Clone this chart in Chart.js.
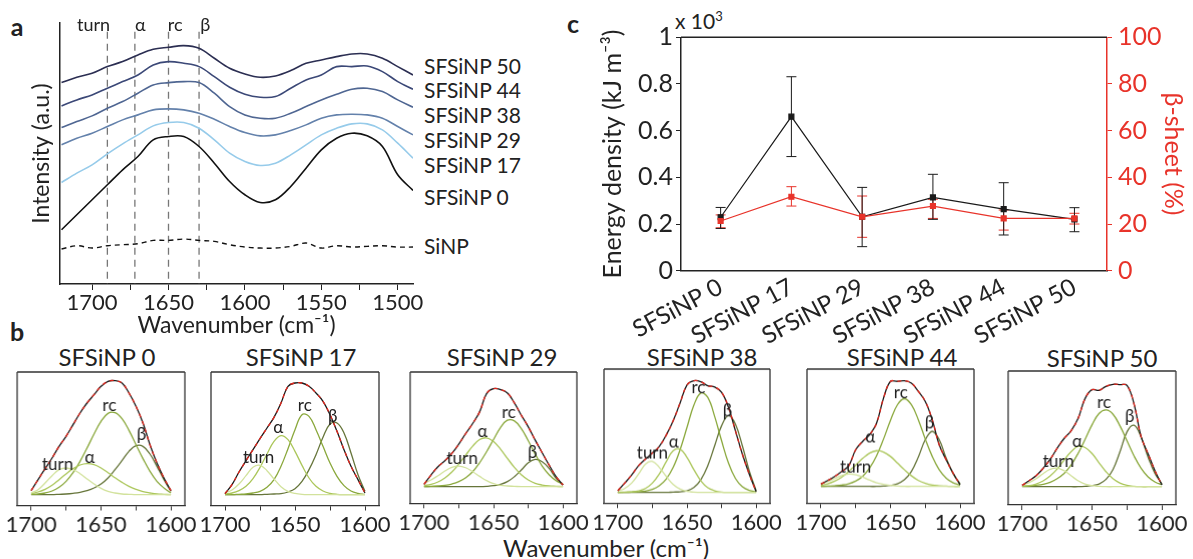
<!DOCTYPE html>
<html>
<head>
<meta charset="utf-8">
<script src="https://cdn.jsdelivr.net/npm/chart.js@4.4.0/dist/chart.umd.min.js"></script>
<style>
  body { margin: 0; width: 1193px; height: 559px; position: relative; overflow: hidden; background: #fff; font-family: Lato, sans-serif; color: #222; }
  canvas { position: absolute; }
  .t { position: absolute; white-space: nowrap; line-height: 1; }
  .c { transform: translate(-50%, -50%); }
  .l { transform: translateY(-50%); }
</style>
</head>
<body>
<div class="t c" style="left:17px;top:26px;font-size:25px;font-weight:bold">a</div>
<div class="t c" style="left:17px;top:331px;font-size:25px;font-weight:bold">b</div>
<div class="t c" style="left:573px;top:23px;font-size:25px;font-weight:bold">c</div>

<div class="t l" style="left:424px;top:65px;font-size:21px">SFSiNP 50</div>
<div class="t l" style="left:424px;top:89px;font-size:21px">SFSiNP 44</div>
<div class="t l" style="left:424px;top:114px;font-size:21px">SFSiNP 38</div>
<div class="t l" style="left:424px;top:139px;font-size:21px">SFSiNP 29</div>
<div class="t l" style="left:424px;top:164px;font-size:21px">SFSiNP 17</div>
<div class="t l" style="left:424px;top:196px;font-size:21px">SFSiNP 0</div>
<div class="t l" style="left:424px;top:245px;font-size:21px">SiNP</div>

<div class="t" style="left:675px;top:10px;font-size:21px">x 10<sup style="font-size:13px">3</sup></div>

<div class="t c" style="left:107px;top:357px;font-size:24px">SFSiNP 0</div>
<div class="t c" style="left:301px;top:357px;font-size:24px">SFSiNP 17</div>
<div class="t c" style="left:502px;top:357px;font-size:24px">SFSiNP 29</div>
<div class="t c" style="left:702px;top:357px;font-size:24px">SFSiNP 38</div>
<div class="t c" style="left:902px;top:357px;font-size:24px">SFSiNP 44</div>
<div class="t c" style="left:1102px;top:358px;font-size:24px">SFSiNP 50</div>
<div class="t c" style="left:606px;top:548px;font-size:24px">Wavenumber (cm⁻¹)</div>

<script>
// FTIR amide I spectra, energy density and beta-sheet content

// ---- panel a: spectra (a.u., offset curves)
const wnA = [1720,1710,1700,1690,1680,1670,1660,1650,1640,1630,1620,1610,1600,1590,1580,1570,1560,1550,1540,1530,1520,1510,1500,1490];
const int50 = [605,621,633,653,668,688,705,711,716,708,678,648,631,621,625,641,663,673,683,691,691,678,653,628];
const int44 = [535,553,568,588,608,628,658,668,663,653,623,591,570,561,563,588,613,628,653,653,655,638,608,585];
const int38 = [470,488,505,528,548,573,598,605,608,605,573,533,508,498,498,513,533,553,570,585,588,578,553,531];
const int29 = [418,438,453,473,493,508,523,526,523,513,495,473,455,445,448,461,478,498,508,510,508,498,473,448];
const int17 = [305,333,358,391,421,448,475,485,485,468,433,393,368,356,363,388,418,448,468,481,481,463,423,378];
const int0 = [163,208,253,298,343,383,433,443,443,413,363,308,268,245,253,293,348,403,438,453,445,413,328,281];
const intSiNP = [105,115,108,115,118,121,131,131,135,131,128,118,111,108,108,113,123,108,115,111,113,115,111,111];
const markerWn = [1690, 1672, 1650, 1630];
const markerNames = ['turn', 'α', 'rc', 'β'];
const markerLabelWn = [1699, 1668.5, 1645.6, 1626];
const ticksA = [1700,1675,1650,1625,1600,1575,1550,1525,1500];

// ---- panel c: energy density (x10^3 kJ m-3) and beta-sheet (%)
const samples = ['SFSiNP 0','SFSiNP 17','SFSiNP 29','SFSiNP 38','SFSiNP 44','SFSiNP 50'];
const energy = [0.229, 0.66, 0.231, 0.314, 0.264, 0.22];
const energyHi = [0.271, 0.831, 0.357, 0.413, 0.377, 0.27];
const energyLo = [0.181, 0.489, 0.103, 0.22, 0.153, 0.167];
const betaSheet = [21.3, 31.7, 23.1, 27.7, 22.4, 22.4];
const betaHi = [23.9, 36, 32, 30.6, 26, 24.6];
const betaLo = [18.4, 27.7, 14.3, 22.4, 17.4, 20];
const ticksEnergy = [0,0.1,0.2,0.3,0.4,0.5,0.6,0.7,0.8,0.9,1];
const ticksBeta = [0,10,20,30,40,50,60,70,80,90,100];

// ---- panel b: peak fitting of amide I
const wnB = [1700,1695,1690,1685,1680,1675,1670,1665,1660,1655,1650,1645,1640,1635,1630,1625,1620,1615,1610,1605,1600];
const ticksB = [1700,1675,1650,1625,1600];

const meas0 = [12,45,78,110,145,175,210,245,275,300,325,340,342,335,305,265,215,150,95,50,12];
const turn0 = [5,15,35,57,75,80,75,63,47,32,19,10,5,2,1,0,0,0,0,0,0];
const alpha0 = [3,8,16,28,45,62,78,89,93,90,80,66,51,37,25,16,9,5,2,1,0];
const rc0 = [1,2,5,11,22,40,66,100,140,182,220,244,246,228,193,150,108,70,40,20,5];
const beta0 = [0,0,0,0,1,2,4,7,12,20,32,50,75,102,130,147,145,122,85,45,10];

const meas17 = [3,30,68,102,135,168,200,232,275,325,335,335,325,305,280,240,190,135,85,45,5];
const turn17 = [5,14,32,57,82,88,72,47,24,10,4,1,0,0,0,0,0,0,0,0,0];
const alpha17 = [2,5,12,25,48,82,122,160,177,165,130,88,50,25,11,4,1,0,0,0,0];
const rc17 = [0,0,1,2,5,10,22,45,85,138,195,240,235,195,145,95,55,27,11,4,1];
const beta17 = [0,0,0,0,0,0,1,2,3,8,18,40,75,120,172,212,215,185,125,60,10];

const meas29 = [7,35,60,78,100,128,160,190,225,280,295,292,282,252,215,180,140,102,65,30,5];
const turn29 = [10,20,33,47,58,62,57,45,31,18,9,4,2,1,0,0,0,0,0,0,0];
const alpha29 = [3,7,14,26,44,68,95,122,142,147,136,113,85,58,36,20,10,5,2,1,0];
const rc29 = [0,1,2,4,8,15,27,45,72,105,142,178,200,198,175,138,98,62,36,18,8];
const beta29 = [0,0,0,0,0,0,0,0,0,1,3,7,15,30,50,72,82,75,55,25,5];

const meas38 = [5,28,52,80,100,118,138,172,215,268,322,335,332,320,316,300,255,185,115,55,2];
const turn38 = [4,12,28,55,85,93,75,48,24,10,3,1,0,0,0,0,0,0,0,0,0];
const alpha38 = [0,1,2,5,12,28,55,92,125,130,105,68,35,14,5,1,0,0,0,0,0];
const rc38 = [0,0,1,2,4,9,20,40,75,128,195,262,298,285,228,155,88,42,17,6,2];
const beta38 = [0,0,0,0,0,0,0,0,1,2,5,15,38,80,140,200,230,205,140,65,5];

const meas44 = [7,18,30,45,62,110,135,155,190,265,315,315,317,310,285,255,200,125,80,40,5];
const turn44 = [8,15,24,33,37,35,28,19,11,6,3,1,0,0,0,0,0,0,0,0,0];
const alpha44 = [3,8,16,28,45,64,84,100,107,103,90,70,50,32,18,9,4,2,1,0,0];
const rc44 = [0,1,2,4,8,16,30,55,92,142,198,245,263,245,200,142,90,50,25,11,4];
const beta44 = [0,0,0,0,0,0,0,0,0,1,3,8,20,45,88,140,165,140,85,38,8];

const meas50 = [4,18,33,55,82,115,145,168,205,265,292,290,302,308,307,305,250,152,100,48,5];
const turn50 = [5,12,24,39,52,56,48,33,18,8,3,1,0,0,0,0,0,0,0,0,0];
const alpha50 = [1,3,8,17,32,53,80,105,121,118,100,72,45,24,11,4,1,0,0,0,0];
const rc50 = [1,2,4,7,13,24,40,65,100,142,186,220,231,218,183,138,93,56,30,14,6];
const beta50 = [0,0,0,0,0,0,0,0,0,1,3,8,22,52,105,165,185,150,90,40,8];

const bLabelWn = [[1681,1658,1644,1621],[1676,1662,1643,1623],[1672.5,1658,1639,1622],[1675,1659.5,1641.7,1620.7],[1675,1664.6,1642.6,1622],[1674,1660.5,1641.4,1623]];
const bLabelH = [[90,112,268,180],[112,200,268,235],[84,167,222,102],[118,152,315,245],[57,147,282,192],[77,137,252,212]];

Chart.defaults.font.family = 'Lato, sans-serif';
Chart.defaults.color = '#222';
Chart.defaults.animation = false;

// text placed in data coordinates
const textLabels = {
  id: 'textLabels',
  afterDatasetsDraw(chart, args, opts) {
    if (!opts.items) return;
    const { ctx, scales: { x, y } } = chart;
    ctx.save();
    ctx.font = opts.font;
    ctx.fillStyle = opts.color || '#222';
    ctx.textAlign = 'center';
    ctx.textBaseline = 'middle';
    opts.items.forEach(it => ctx.fillText(it.text, x.getPixelForValue(it.x), y.getPixelForValue(it.y)));
    ctx.restore();
  }
};

// box lines around the plot area
const frame = {
  id: 'frame',
  afterDraw(chart, args, opts) {
    if (!opts.sides) return;
    const { ctx, chartArea: a } = chart;
    ctx.save();
    ctx.strokeStyle = opts.color || '#222';
    ctx.lineWidth = opts.width || 1.3;
    ctx.beginPath();
    if (opts.sides.includes('top')) { ctx.moveTo(a.left, a.top); ctx.lineTo(a.right, a.top); }
    if (opts.sides.includes('right')) { ctx.moveTo(a.right, a.top); ctx.lineTo(a.right, a.bottom); }
    if (opts.sides.includes('left')) { ctx.moveTo(a.left, a.top); ctx.lineTo(a.left, a.bottom); }
    ctx.stroke();
    ctx.restore();
  }
};

// vertical error bars with caps
const errorBars = {
  id: 'errorBars',
  beforeDatasetsDraw(chart) {
    const ctx = chart.ctx;
    chart.data.datasets.forEach((ds, i) => {
      if (!ds.errLow) return;
      const meta = chart.getDatasetMeta(i);
      const ys = chart.scales[ds.yAxisID];
      ctx.save();
      ctx.strokeStyle = ds.borderColor;
      ctx.lineWidth = 1;
      meta.data.forEach((pt, j) => {
        const yl = ys.getPixelForValue(ds.errLow[j]);
        const yh = ys.getPixelForValue(ds.errHigh[j]);
        ctx.beginPath();
        ctx.moveTo(pt.x, yl); ctx.lineTo(pt.x, yh);
        ctx.moveTo(pt.x - 5, yl); ctx.lineTo(pt.x + 5, yl);
        ctx.moveTo(pt.x - 5, yh); ctx.lineTo(pt.x + 5, yh);
        ctx.stroke();
      });
      ctx.restore();
    });
  }
};

Chart.register(textLabels, frame, errorBars);

function makeCanvas(left, top, w, h) {
  const c = document.createElement('canvas');
  c.width = w; c.height = h;
  c.style.left = left + 'px'; c.style.top = top + 'px';
  c.style.width = w + 'px'; c.style.height = h + 'px';
  document.body.appendChild(c);
  return c;
}

function xy(xs, ys) {
  return xs.map((x, i) => ({ x: x, y: ys[i] }));
}

// ---- panel a
const spectra = [
  { data: int50, color: '#2b2e52' },
  { data: int44, color: '#3b4877' },
  { data: int38, color: '#4f6692' },
  { data: int29, color: '#6381ab' },
  { data: int17, color: '#96cbea' },
  { data: int0, color: '#111111' }
];

const aDatasets = spectra.map(s => ({
  data: xy(wnA, s.data),
  borderColor: s.color,
  borderWidth: 1.6,
  pointRadius: 0,
  tension: 0.35
}));
aDatasets.push({
  data: xy(wnA, intSiNP),
  borderColor: '#111',
  borderWidth: 1.4,
  borderDash: [5, 4],
  pointRadius: 0,
  tension: 0.35
});
markerWn.forEach(w => aDatasets.push({
  data: [{ x: w, y: 758 }, { x: w, y: 0 }],
  borderColor: '#777',
  borderWidth: 1.3,
  borderDash: [7, 5],
  pointRadius: 0
}));

new Chart(makeCanvas(0, 0, 560, 345), {
  type: 'line',
  data: { datasets: aDatasets },
  options: {
    responsive: false,
    layout: { padding: { left: 0, top: 23, right: 147, bottom: 0 } },
    plugins: {
      legend: { display: false },
      tooltip: { enabled: false },
      textLabels: {
        font: '18px Lato',
        items: markerNames.map((n, i) => ({ text: n, x: markerLabelWn[i], y: 778 }))
      }
    },
    scales: {
      x: {
        type: 'linear', min: 1490, max: 1721, reverse: true,
        afterBuildTicks: s => { s.ticks = ticksA.map(v => ({ value: v })); },
        afterFit: s => { s.height = 61; },
        ticks: { autoSkip: false, maxRotation: 0, padding: 0, font: { size: 22 }, callback: v => (v % 50 === 0 ? String(v) : '') },
        grid: { drawOnChartArea: false, drawTicks: true, tickLength: 6, color: '#222' },
        border: { color: '#222', width: 1.5 },
        title: { display: true, text: 'Wavenumber (cm⁻¹)', font: { size: 23 }, padding: { top: 0, bottom: 6 } }
      },
      y: {
        min: 0, max: 784,
        afterFit: s => { s.width = 60; },
        ticks: { display: false },
        grid: { display: false },
        border: { color: '#222', width: 1.5 },
        title: { display: true, text: 'Intensity (a.u.)', font: { size: 23 }, padding: { top: 28, bottom: 0 } }
      }
    }
  }
});

// ---- panel c
new Chart(makeCanvas(560, 0, 633, 345), {
  type: 'line',
  data: {
    datasets: [
      {
        label: 'β-sheet',
        data: xy([0, 1, 2, 3, 4, 5], betaSheet),
        errLow: betaLo, errHigh: betaHi,
        yAxisID: 'y1',
        borderColor: '#e8332a', backgroundColor: '#e8332a',
        borderWidth: 1.2, pointStyle: 'rect', pointRadius: 3.5,
        order: 0
      },
      {
        label: 'Energy density',
        data: xy([0, 1, 2, 3, 4, 5], energy),
        errLow: energyLo, errHigh: energyHi,
        yAxisID: 'y',
        borderColor: '#1a1a1a', backgroundColor: '#1a1a1a',
        borderWidth: 1.2, pointStyle: 'rect', pointRadius: 3.5,
        order: 1
      }
    ]
  },
  options: {
    responsive: false,
    layout: { padding: { left: 0, top: 37.3, right: 0, bottom: 0 } },
    plugins: {
      legend: { display: false },
      tooltip: { enabled: false },
      frame: { sides: ['top'], color: '#222', width: 1.5 }
    },
    scales: {
      x: {
        type: 'linear', min: -0.56, max: 5.46,
        afterBuildTicks: s => { s.ticks = [0, 1, 2, 3, 4, 5].map(v => ({ value: v })); },
        afterFit: s => { s.height = 74.3; },
        ticks: { autoSkip: false, minRotation: 28, maxRotation: 28, padding: 2, font: { size: 24 }, callback: v => samples[v] },
        grid: { display: false, drawTicks: false },
        border: { color: '#222', width: 1.5 }
      },
      y: {
        position: 'left', min: 0, max: 1,
        afterBuildTicks: s => { s.ticks = ticksEnergy.map(v => ({ value: v })); },
        afterFit: s => { s.width = 121; },
        ticks: { padding: 3, font: { size: 25 }, callback: (v, i) => (i % 2 ? '' : (v === 0 || v === 1 ? String(v) : v.toFixed(1))) },
        grid: { drawOnChartArea: false, drawTicks: true, tickLength: 5, color: '#222' },
        border: { color: '#222', width: 1.5 },
        title: { display: true, text: 'Energy density (kJ m⁻³)', font: { size: 25 }, padding: { top: 38, bottom: 0 } }
      },
      y1: {
        position: 'right', min: 0, max: 100,
        afterBuildTicks: s => { s.ticks = ticksBeta.map(v => ({ value: v })); },
        afterFit: s => { s.width = 86; },
        ticks: { padding: 6, color: '#e8332a', font: { size: 25 }, callback: (v, i) => (i % 2 ? '' : String(v)) },
        grid: { drawOnChartArea: false, drawTicks: true, tickLength: 5, color: '#e8332a' },
        border: { color: '#e8332a', width: 1.5 },
        title: { display: true, text: 'β-sheet (%)', color: '#e8332a', font: { size: 25 }, padding: { top: 5, bottom: 0 } }
      }
    }
  }
});

// ---- panel b
const fits = [
  [meas0, turn0, alpha0, rc0, beta0],
  [meas17, turn17, alpha17, rc17, beta17],
  [meas29, turn29, alpha29, rc29, beta29],
  [meas38, turn38, alpha38, rc38, beta38],
  [meas44, turn44, alpha44, rc44, beta44],
  [meas50, turn50, alpha50, rc50, beta50]
];
const bBoxes = [[16.7, 372, 184.5, 505.5], [210.7, 372, 379, 505.5], [410, 371.7, 576.7, 503.3], [604, 369.3, 770, 503.3], [807.3, 369.3, 974.3, 503.3], [1008.3, 370.7, 1175.7, 505]];
const bYRange = [[-32.5, 368], [-32.5, 368], [-50, 345], [-32, 370], [-50, 352], [-55, 348]];
const compColors = ['#d2e29c', '#abc65a', '#8aa83c', '#66753a'];

fits.forEach((f, k) => {
  const [x1, y1, x2, y2] = bBoxes[k];
  const top = y1 - 4;
  const canvas = makeCanvas(x1 - 30, top, (x2 - x1) + 60, 545 - top);
  const ds = [];
  f.slice(1).forEach((comp, j) => ds.push({
    data: xy(wnB, comp), borderColor: compColors[j], borderWidth: 1.3, pointRadius: 0, tension: 0.4, order: 3
  }));
  ds.push({ data: xy(wnB, f[0]), borderColor: '#1a1a1a', borderWidth: 1.3, pointRadius: 0, tension: 0.4, order: 2 });
  ds.push({ data: xy(wnB, f[0]), borderColor: '#e3261c', borderWidth: 1.3, borderDash: [4, 4], pointRadius: 0, tension: 0.4, order: 1 });

  new Chart(canvas, {
    type: 'line',
    data: { datasets: ds },
    options: {
      responsive: false,
      layout: { padding: { left: 30, top: 4, right: 30, bottom: 0 } },
      plugins: {
        legend: { display: false },
        tooltip: { enabled: false },
        frame: { sides: ['top', 'right', 'left'], color: '#333', width: 1.3 },
        textLabels: {
          font: '17px Lato',
          items: markerNames.map((n, i) => ({ text: n, x: bLabelWn[k][i], y: bLabelH[k][i] }))
        }
      },
      scales: {
        x: {
          type: 'linear', min: 1590, max: 1710, reverse: true,
          afterBuildTicks: s => { s.ticks = ticksB.map(v => ({ value: v })); },
          afterFit: s => { s.height = 545 - y2; },
          ticks: { autoSkip: false, maxRotation: 0, padding: 1, font: { size: 22 }, callback: v => (v % 50 === 0 ? String(v) : '') },
          grid: { drawOnChartArea: false, drawTicks: true, tickLength: 5, color: '#333' },
          border: { color: '#333', width: 1.3 }
        },
        y: { display: false, min: bYRange[k][0], max: bYRange[k][1] }
      }
    }
  });
});
</script>
</body>
</html>
